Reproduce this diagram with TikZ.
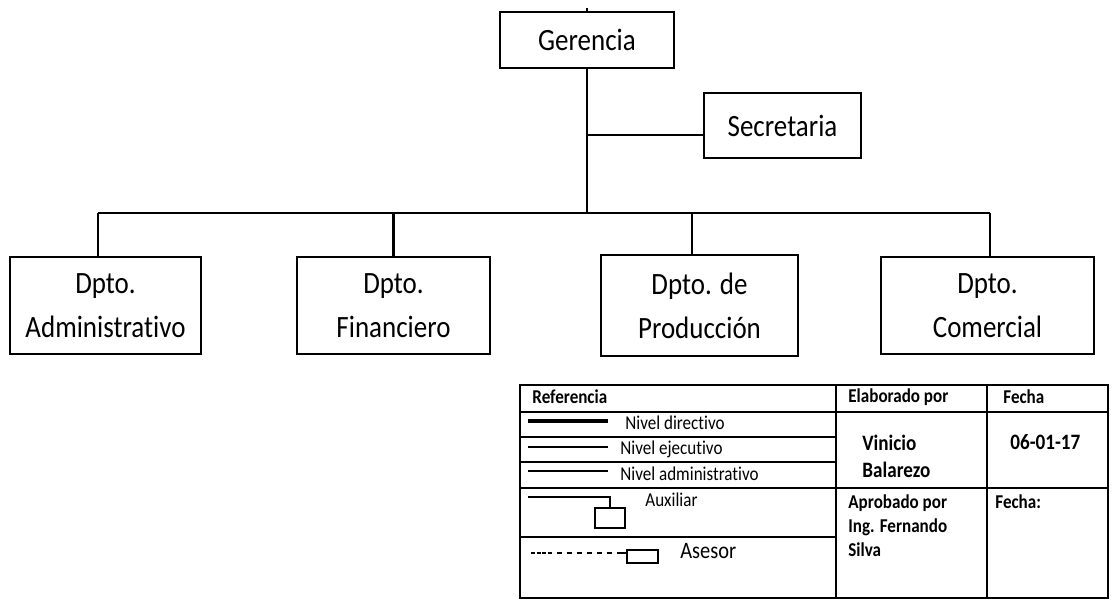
\documentclass[tikz,border=0pt]{standalone}
\usepackage{fontspec}
\setmainfont{Carlito}[FakeStretch=0.87, Ligatures=NoCommon]
\usetikzlibrary{positioning}

\begin{document}
\begin{tikzpicture}[x=0.5pt, y=-0.5pt,
  unidad/.style={draw, line width=1.2pt, inner sep=0pt, align=center,
                 font=\fontsize{15.5}{22}\selectfont},
  lin/.style={line width=1.1pt},
  barra/.style={line width=1.4pt},
  celda/.style={line width=1pt},
  txt/.style={inner sep=0pt, anchor=west, font=\fontsize{9.8}{12}\selectfont},
  txtb/.style={txt, font=\fontsize{9.8}{12}\selectfont\bfseries},
  txtg/.style={txt, align=left, font=\fontsize{11}{13.5}\selectfont\bfseries},
  caja/.style={draw, line width=0.9pt, inner sep=0pt},
]
\useasboundingbox (0,0) rectangle (1118,600);

% organigrama
\node[unidad, minimum width=87pt, minimum height=28pt] (ger) at (587,40) {Gerencia};
\node[unidad, minimum width=78.5pt, minimum height=32.5pt] (sec) at (782.5,125.5) {Secretaria};
\node[unidad, minimum width=95.5pt, minimum height=48.5pt] (adm) at (105.5,305.5) {Dpto.\\Administrativo};
\node[unidad, minimum width=96.5pt, minimum height=48.5pt] (fin) at (393.5,305.5) {Dpto.\\Financiero};
\node[unidad, minimum width=98.5pt, minimum height=50.5pt] (pro) at (699.5,305.5) {Dpto. de\\Producción};
\node[unidad, minimum width=106.5pt, minimum height=48.5pt] (com) at (987.5,305.5) {Dpto.\\Comercial};

\coordinate (b1) at (98,213);
\coordinate (b3) at (692,213);
\coordinate (b4) at (990,213);

\draw[line width=0.8pt] (ger.north) -- ++(0,-3);
\draw[lin] (ger.south) -- (ger.south |- b1);
\draw[lin] ([yshift=-4.75pt]sec.west) -- ([yshift=-4.75pt]sec.west -| ger.south);
\draw[barra] (b1) -- (b4);
\draw[lin] (b1) -- (b1 |- adm.north);
\draw[lin] (fin.north |- b1) -- (fin.north);
\draw[lin] (b3) -- (b3 |- pro.north);
\draw[lin] (b4) -- (b4 |- com.north);

% cuadro de referencia
\draw[celda] (520,385) rectangle (1108,598);
\draw[celda] (836,385) -- (836,598);
\draw[celda] (987,385) -- (987,598);
\draw[celda] (520,412) -- (1108,412);
\draw[celda] (520,488) -- (1108,488);
\foreach \y in {437,462,537}
  \draw[celda] (520,\y) -- (836,\y);

\node[txtb] (ref) at (532,397) {Referencia};
\node[txtb] (ela) at (848,397) {Elaborado por};
\node[txtb] (fe1) at (1003,397) {Fecha};

\draw[line width=1.8pt] (528,421) -- (608,421);
\node[txt] (dir) at (625,423) {Nivel directivo};
\draw[line width=1.3pt] (528,447) -- (608,447);
\node[txt] (eje) at (620,449) {Nivel ejecutivo};
\draw[line width=0.7pt] (528,471) -- (608,471);
\node[txt] (adt) at (620,474) {Nivel administrativo};

\coordinate (ax0) at (528,497);
\node[caja, minimum width=15pt, minimum height=10pt] (aux) at (610,518) {};
\draw[line width=0.8pt] (ax0) -| (aux.north);
\node[txt] (auxt) at (645,500) {Auxiliar};

\coordinate (as0) at (531,553);
\node[caja, minimum width=15.5pt, minimum height=6.5pt] (ase) at (642.5,556.5) {};
\draw[line width=0.8pt, dash pattern=on 2pt off 0.8pt on 2pt off 0.8pt on 2pt off 0.8pt on 2pt off 2.5pt
      on 2.5pt off 2.5pt on 2.5pt off 2.5pt on 2.5pt off 2.5pt on 2.5pt off 2.5pt
      on 2.5pt off 2.5pt on 2.5pt off 2.5pt on 2.5pt off 0pt] (as0) -- (as0 -| ase.west);
\node[txt, font=\fontsize{11.75}{14}\selectfont] (aset) at (680,551) {Asesor};

\node[txtg] (vin) at (862,456.5) {Vinicio\\Balarezo};
\node[txtg] (fch) at (1010,442) {06-01-17};
\node[txtb, align=left] (apr) at (848,526) {Aprobado por\\Ing. Fernando\\Silva};
\node[txtb] (fe2) at (995,502) {Fecha:};
\end{tikzpicture}
\end{document}
